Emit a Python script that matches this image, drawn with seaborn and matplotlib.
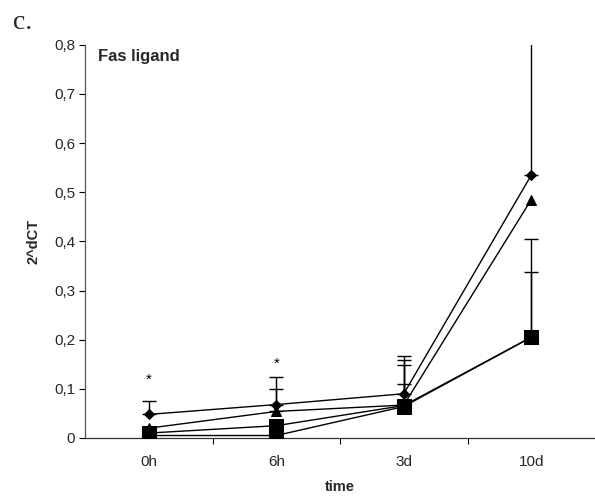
import numpy as np
import pandas as pd
import matplotlib
matplotlib.use("Agg")
import matplotlib.pyplot as plt
import seaborn as sns

# Time points and expression levels (2^dCT) for the four groups
time_points = ["0h", "6h", "3d", "10d"]
grp_diamond = [0.048, 0.068, 0.090, 0.535]
grp_triangle = [0.020, 0.054, 0.067, 0.485]
grp_square = [0.010, 0.025, 0.066, 0.205]
grp_square_low = [0.005, 0.005, 0.064, 0.205]

# Upper standard deviations
err_diamond = [0.027, 0.056, 0.077, 0.400]
err_triangle = [0.000, 0.046, 0.091, 0.000]
err_square = [0.000, 0.000, 0.082, 0.200]
err_square_low = [0.000, 0.000, 0.046, 0.133]

# Significance marks (time point index, height)
star_pos = [0, 1]
star_y = [0.118, 0.152]

series_names = ["diamond", "triangle", "square", "square_low"]
series_vals = [grp_diamond, grp_triangle, grp_square, grp_square_low]
series_errs = [err_diamond, err_triangle, err_square, err_square_low]

rows = []
for name, vals in zip(series_names, series_vals):
    for i, v in enumerate(vals):
        rows.append({"series": name, "pos": i, "value": v})
df = pd.DataFrame(rows)

sns.set_style("ticks")
plt.rcParams["font.family"] = ["Liberation Sans", "DejaVu Sans"]

fig = plt.figure(figsize=(5.95, 5.04), dpi=100)
ax = fig.add_axes([0.143, 0.131, 0.857, 0.780])

markers = {"diamond": "D", "triangle": "^", "square": "s", "square_low": "s"}
sizes = {"diamond": 5, "triangle": 7, "square": 10, "square_low": 10}

# error bars first, then lines with markers on top
for name, vals, errs in zip(series_names, series_vals, series_errs):
    x = np.arange(len(vals))
    e = np.array(errs)
    mask = e > 0
    ax.errorbar(x[mask], np.array(vals)[mask],
                yerr=[np.zeros(mask.sum()), e[mask]],
                fmt="none", ecolor="black", elinewidth=1.0,
                capsize=5, capthick=1.0, zorder=2)

for name in series_names:
    sub = df[df["series"] == name]
    sns.lineplot(data=sub, x="pos", y="value", ax=ax, color="black",
                 marker=markers[name], markersize=sizes[name],
                 markeredgecolor="black", markerfacecolor="black",
                 linewidth=1.0, legend=False, zorder=3)

for p, y in zip(star_pos, star_y):
    ax.text(p, y, "*", ha="center", va="center", fontsize=11, color="black")

ax.set_xlim(-0.5, 3.5)
ax.set_ylim(0, 0.8)
ax.set_yticks(np.arange(0, 0.81, 0.1))
ax.set_yticklabels(["0"] + [f"0,{i}" for i in range(1, 9)], fontsize=11)
ax.set_xticks(range(len(time_points)))
ax.set_xticklabels(time_points, fontsize=11)
ax.tick_params(axis="x", length=0, pad=12)
ax.set_xticks([0.5, 1.5, 2.5], minor=True)
ax.tick_params(axis="x", which="minor", length=4, width=0.8, color="black")
ax.tick_params(axis="y", length=4, width=0.8, color="black", pad=3)

for s in ["top", "right"]:
    ax.spines[s].set_visible(False)
ax.spines["left"].set_color("#555555")
ax.spines["bottom"].set_color("#333333")
ax.spines["left"].set_linewidth(0.9)
ax.spines["bottom"].set_linewidth(0.9)

ax.set_xlabel("time", fontsize=10.5, fontweight="bold", labelpad=8)
ax.set_ylabel("2^dCT", fontsize=10.5, fontweight="bold", labelpad=10)

ax.text(0.025, 0.99, "Fas ligand", transform=ax.transAxes, fontsize=12,
        fontweight="bold", ha="left", va="top")
fig.text(0.022, 0.98, "c.", fontsize=20, ha="left", va="top",
         family=["Liberation Serif", "DejaVu Serif"])

fig.savefig("out.png", dpi=100)
